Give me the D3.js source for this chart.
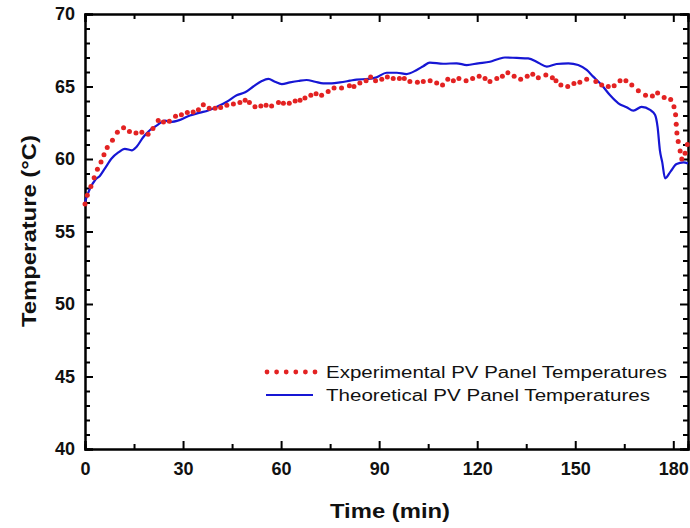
<!DOCTYPE html>
<html>
<head>
<meta charset="utf-8">
<script src="https://cdn.jsdelivr.net/npm/d3@7"></script>
<style>
  body { margin: 0; background: #fff; }
  svg { font-family: "Liberation Sans", Arial, sans-serif; }
  .tick-label { font-weight: bold; font-size: 18px; fill: #111; }
  .axis-title { font-weight: bold; fill: #111; }
  .legend-text { font-size: 16px; fill: #111; }
</style>
</head>
<body>
<div id="chart"></div>
<script>
// experimental panel temperatures (dots): time in min, temperature in C
var expTime = [0, 0.7, 1.8, 2.8, 3.8, 4.9, 5.8, 6.8, 8.4, 9.9, 11.8, 13.6, 15.6, 17.4, 19.3,
  20.8, 22.4, 24.0, 25.8, 27.7, 29.5, 31.3, 33.1, 34.7, 36.2, 38.0, 39.8, 41.5, 43.4,
  45.4, 47.4, 49.0, 50.3, 52.0, 53.8, 55.4, 57.1, 59.2, 60.7, 62.5, 64.3, 65.8, 67.3,
  69.1, 70.7, 72.4, 74.4, 76.2, 78.5, 80.9, 82.3, 84.1, 86.0, 87.4, 88.9, 90.8, 92.5,
  94.3, 96.2, 97.7, 99.4, 101.7, 103.5, 105.6, 107.6, 109.4, 111.0, 112.7, 114.4,
  116.6, 118.6, 120.6, 122.4, 123.9, 126.0, 127.7, 129.4, 131.3, 133.3, 135.3, 137.0,
  138.7, 141.0, 143.0, 144.1, 145.6, 147.7, 149.6, 151.4, 153.5, 156.3, 158.1, 160.1,
  161.9, 163.7, 165.5, 167.3, 169.3, 171.5, 173.6, 175.2, 177.2, 179.2, 180.2, 180.7,
  180.9, 181.1, 181.5, 182.1, 182.6, 183.6, 184.3];
var expTemp = [56.9, 57.5, 58.1, 58.7, 59.3, 59.8, 60.3, 60.8, 61.3, 61.85, 62.15, 61.9, 61.8,
  61.85, 61.7, 62.1, 62.65, 62.55, 62.6, 62.95, 63.05, 63.2, 63.25, 63.4, 63.75, 63.5,
  63.5, 63.55, 63.7, 63.8, 63.9, 64.05, 63.9, 63.6, 63.65, 63.7, 63.65, 63.9, 63.85,
  63.85, 64.0, 64.05, 64.2, 64.4, 64.5, 64.4, 64.65, 64.9, 64.9, 65.05, 65.0, 65.25,
  65.4, 65.65, 65.4, 65.5, 65.65, 65.55, 65.55, 65.55, 65.35, 65.3, 65.35, 65.4, 65.25,
  65.1, 65.5, 65.4, 65.55, 65.4, 65.55, 65.7, 65.55, 65.35, 65.55, 65.7, 65.95, 65.7,
  65.5, 65.7, 65.85, 65.6, 65.8, 65.6, 65.4, 65.1, 65.0, 65.2, 65.3, 65.5, 65.35, 65.1,
  65.0, 65.05, 65.4, 65.4, 65.1, 64.7, 64.4, 64.35, 64.55, 64.25, 64.1, 63.6, 63.05,
  62.4, 61.8, 61.2, 60.55, 60.0, 60.4, 61.0];

// theoretical panel temperatures (line)
var theoTime = [0, 1.5, 3.1, 4.6, 6.1, 8.2, 10.2, 12.2, 14.3, 15.8, 17.8, 19.9, 21.9, 24.5,
  26.0, 29.1, 32.1, 35.2, 37.7, 40.3, 43.4, 46.4, 49.0, 51.5, 54.1, 56.1, 58.1, 60.2,
  62.7, 65.3, 67.8, 70.4, 72.9, 75.5, 78.0, 81.1, 83.1, 86.7, 89.2, 92.3, 95.4, 98.4,
  101.5, 103.5, 105.5, 109.6, 113.7, 116.8, 120.3, 123.9, 126.5, 128.5, 132.1, 135.6,
  138.7, 141.3, 144.3, 147.9, 150.9, 153.5, 155.5, 158.1, 160.6, 163.2, 165.7, 167.8,
  170.3, 172.9, 174.4, 175.2, 175.9, 176.6, 177.5, 179.2, 181.0, 183.1, 184.5];
var theoTemp = [57.05, 57.95, 58.55, 58.85, 59.35, 60.05, 60.45, 60.7, 60.6, 60.85, 61.5,
  62.0, 62.3, 62.65, 62.55, 62.7, 63.0, 63.2, 63.35, 63.6, 63.95, 64.4, 64.6, 65.0,
  65.38, 65.52, 65.33, 65.17, 65.28, 65.38, 65.45, 65.33, 65.22, 65.22, 65.28, 65.4,
  65.48, 65.52, 65.63, 65.95, 65.95, 65.86, 66.14, 66.4, 66.65, 66.57, 66.6, 66.48,
  66.6, 66.71, 66.9, 67.0, 66.97, 66.94, 66.64, 66.37, 66.55, 66.6, 66.48, 66.14,
  65.68, 65.1, 64.41, 63.84, 63.57, 63.33, 63.6, 63.38, 63.05, 62.2, 60.6, 59.8, 58.67,
  59.15, 59.65, 59.77, 59.7];

var xMajor = [0, 30, 60, 90, 120, 150, 180];
var yMajor = [40, 45, 50, 55, 60, 65, 70];
var seriesNames = ["Experimental PV Panel Temperatures", "Theoretical PV Panel Temperatures"];

var width = 690, height = 528;
var plot = {left: 85, right: 688, top: 14, bottom: 449};
var red = "#e32222", blue = "#1616d4";

var svg = d3.select("#chart").append("svg")
    .attr("width", width)
    .attr("height", height);

var xScale = d3.scaleLinear().domain([0, 184.5]).range([plot.left, plot.right]);
var yScale = d3.scaleLinear().domain([40, 70]).range([plot.bottom, plot.top]);

// minor ticks every 15 min and every 1 degree
var xMinor = d3.range(15, 184, 30);
var yMinor = d3.range(41, 70, 1).filter(d => d % 5 !== 0);

// bottom axis, ticks pointing inside
svg.append("g")
    .attr("transform", "translate(0," + plot.bottom + ")")
    .call(d3.axisBottom(xScale).tickValues(xMajor).tickSize(-8).tickPadding(13))
    .call(g => g.selectAll(".tick text").attr("class", "tick-label"));
svg.append("g")
    .attr("transform", "translate(0," + plot.bottom + ")")
    .call(d3.axisBottom(xScale).tickValues(xMinor).tickSize(-5).tickFormat(""));

// top axis
svg.append("g")
    .attr("transform", "translate(0," + plot.top + ")")
    .call(d3.axisTop(xScale).tickValues(xMajor).tickSize(-8).tickFormat(""));
svg.append("g")
    .attr("transform", "translate(0," + plot.top + ")")
    .call(d3.axisTop(xScale).tickValues(xMinor).tickSize(-5).tickFormat(""));

// left axis
svg.append("g")
    .attr("transform", "translate(" + plot.left + ",0)")
    .call(d3.axisLeft(yScale).tickValues(yMajor).tickSize(-8).tickPadding(10))
    .call(g => g.selectAll(".tick text").attr("class", "tick-label"));
svg.append("g")
    .attr("transform", "translate(" + plot.left + ",0)")
    .call(d3.axisLeft(yScale).tickValues(yMinor).tickSize(-5).tickFormat(""));

// right axis
svg.append("g")
    .attr("transform", "translate(" + plot.right + ",0)")
    .call(d3.axisRight(yScale).tickValues(yMajor).tickSize(-8).tickFormat(""));
svg.append("g")
    .attr("transform", "translate(" + plot.right + ",0)")
    .call(d3.axisRight(yScale).tickValues(yMinor).tickSize(-5).tickFormat(""));

// thicker black axis lines and ticks
svg.selectAll(".domain").attr("stroke", "#000").attr("stroke-width", 2);
svg.selectAll(".tick line").attr("stroke", "#000").attr("stroke-width", 2);

// theoretical line
var line = d3.line()
    .x((d, i) => xScale(theoTime[i]))
    .y(d => yScale(d))
    .curve(d3.curveMonotoneX);

svg.append("path")
    .datum(theoTemp)
    .attr("fill", "none")
    .attr("stroke", blue)
    .attr("stroke-width", 2.2)
    .attr("d", line);

// experimental dots
svg.append("g")
    .selectAll("circle")
    .data(expTemp)
    .join("circle")
    .attr("cx", (d, i) => xScale(expTime[i]))
    .attr("cy", d => yScale(d))
    .attr("r", 2.5)
    .attr("fill", red);

// axis titles (the source text is drawn a little wide, so stretch to fit)
svg.append("text")
    .attr("class", "axis-title")
    .attr("x", 330)
    .attr("y", 518)
    .style("font-size", "20px")
    .attr("textLength", 120)
    .attr("lengthAdjust", "spacingAndGlyphs")
    .text("Time (min)");

svg.append("text")
    .attr("class", "axis-title")
    .attr("transform", "translate(36,327) rotate(-90)")
    .style("font-size", "21px")
    .attr("textLength", 192)
    .attr("lengthAdjust", "spacingAndGlyphs")
    .text("Temperature (°C)");

// legend
var legend = svg.append("g");
legend.selectAll("circle")
    .data(d3.range(6))
    .join("circle")
    .attr("cx", d => 267 + d * 9.6)
    .attr("cy", 372)
    .attr("r", 2.4)
    .attr("fill", red);

legend.append("line")
    .attr("x1", 266).attr("x2", 313)
    .attr("y1", 395).attr("y2", 395)
    .attr("stroke", blue)
    .attr("stroke-width", 2.2);

var legendWidths = [341, 324];
legend.selectAll("text")
    .data(seriesNames)
    .join("text")
    .attr("class", "legend-text")
    .attr("x", 326)
    .attr("y", (d, i) => 378 + i * 23)
    .attr("textLength", (d, i) => legendWidths[i])
    .attr("lengthAdjust", "spacingAndGlyphs")
    .text(d => d);
</script>
</body>
</html>
